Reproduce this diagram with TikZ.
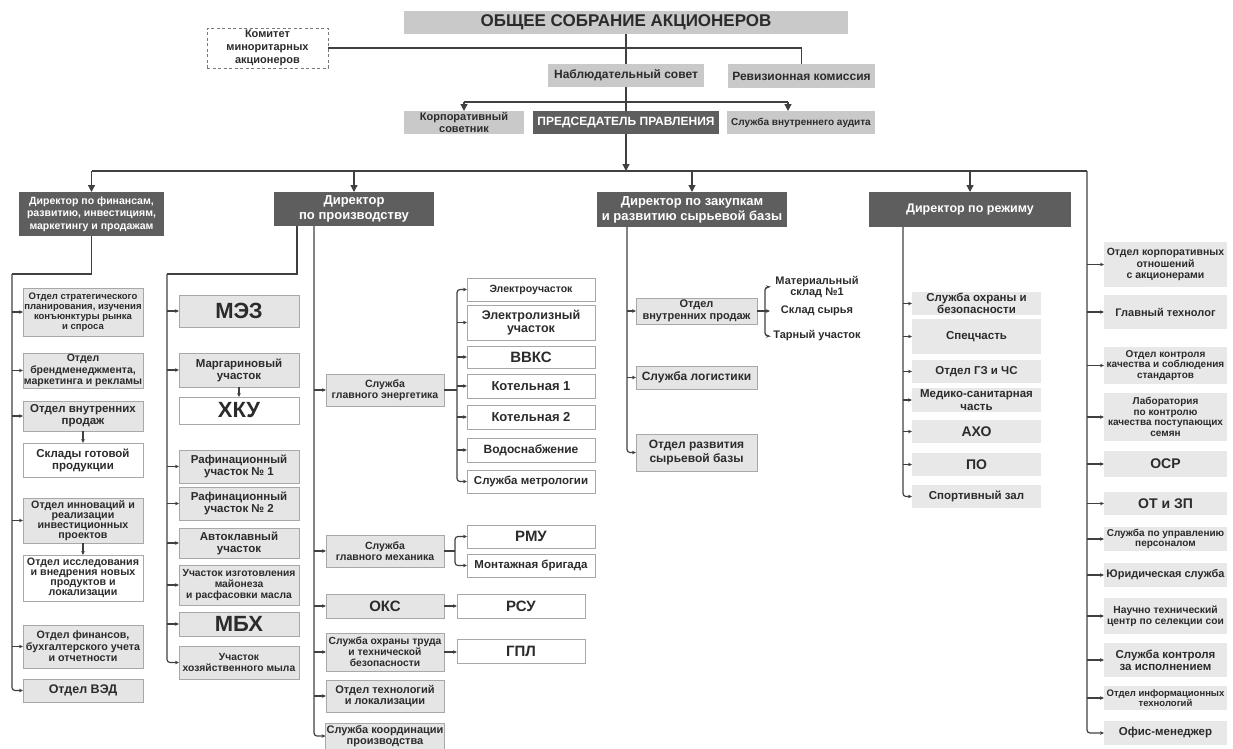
\documentclass[tikz,border=0pt]{standalone}
\usepackage{fontspec}
\setmainfont{Liberation Sans}
\usetikzlibrary{arrows.meta}
\definecolor{lg}{HTML}{C9C9C9}
\definecolor{dk}{HTML}{5E5E5E}
\definecolor{bx}{HTML}{E5E5E5}
\definecolor{px}{HTML}{E8E8E8}
\definecolor{bd}{HTML}{A8A8A8}
\definecolor{ln}{HTML}{404040}
\definecolor{tx}{HTML}{2B2B2B}
\def\lf{1.06}
\newcommand\bx[8]{\node[minimum width={(#5)-(#3)}, minimum height={(#6)-(#4)}, font=\bfseries\fontsize{#7}{\lf\dimexpr #7pt\relax}\selectfont, #2] (#1) at ({((#3)+(#5))/2},{((#4)+(#6))/2}) {#8};}
\tikzset{
  every node/.style={text=tx, align=center, inner sep=1pt, outer sep=0pt},
  lsk/.code={\def\lf{#1}},
  topbox/.style={fill=lg},
  darkbox/.style={fill=dk, text=white},
  gbox/.style={fill=bx, draw=bd, line width=0.8pt},
  wbox/.style={fill=white, draw=bd, line width=0.8pt},
  pbox/.style={fill=px},
  tbox/.style={},
  dshbox/.style={draw=ln!70, line width=0.8pt, dash pattern=on 3pt off 2.5pt},
  conn/.style={draw=ln, line width=1.2pt},
  big/.style={conn, -{Triangle[length=7pt,width=7pt]}},
  sm/.style={conn, -{Stealth[length=4pt,width=3.6pt]}},
}
\begin{document}
\begin{tikzpicture}[x=1pt,y=-1pt]
\useasboundingbox (0,0) rectangle (1233,748);
% top level
\bx{gm}{topbox}{404}{11}{848}{34}{17}{ОБЩЕЕ СОБРАНИЕ АКЦИОНЕРОВ}
\bx{kom}{dshbox,lsk=1.2}{207}{28}{328}{68}{11}{Комитет\\миноритарных\\акционеров}
\bx{nab}{topbox}{548}{64}{704}{87}{12}{Наблюдательный совет}
\bx{rev}{topbox}{728}{64}{875}{88}{12}{Ревизионная комиссия}
\bx{korp}{topbox}{404}{111}{524}{134}{11}{Корпоративный\\советник}
\bx{pred}{darkbox}{533}{111}{719}{134}{12}{ПРЕДСЕДАТЕЛЬ ПРАВЛЕНИЯ}
\bx{aud}{topbox}{727}{111}{875}{134}{10}{Служба внутреннего аудита}
% directors
\bx{D1}{darkbox,lsk=1.2}{19}{192}{164}{236}{10.5}{Директор по финансам,\\развитию, инвестициям,\\маркетингу и продажам}
\bx{D2}{darkbox,lsk=1.15}{274}{192}{434}{226}{13}{Директор\\по производству}
\bx{D3}{darkbox,lsk=1.15}{597}{192}{787}{227}{13}{Директор по закупкам\\и развитию сырьевой базы}
\bx{D4}{darkbox}{869}{192}{1071}{227}{12.5}{Директор по режиму}
% director 1 children
\bx{A1}{gbox}{23}{288}{143}{336}{9.5}{Отдел стратегического\\планирования, изучения\\конъюнктуры рынка\\и спроса}
\bx{A2}{gbox}{23}{353}{143}{388}{10.5}{Отдел\\брендменеджмента,\\маркетинга и рекламы}
\bx{A3}{gbox}{23}{401}{143}{431}{11.5}{Отдел внутренних\\продаж}
\bx{A4}{wbox}{23}{443}{143}{477}{11.5}{Склады готовой\\продукции}
\bx{A5}{gbox,lsk=0.95}{23}{498}{143}{543}{10.7}{Отдел инноваций и\\реализации\\инвестиционных\\проектов}
\bx{A6}{wbox,lsk=0.95}{23}{555}{143}{601}{10.7}{Отдел исследования\\и внедрения новых\\продуктов и\\локализации}
\bx{A7}{gbox}{23}{625}{143}{668}{10.7}{Отдел финансов,\\бухгалтерского учета\\и отчетности}
\bx{A8}{gbox}{23}{679}{143}{702}{12.5}{Отдел ВЭД}
% director 2 left children
\bx{B1}{gbox}{179}{295}{299}{327}{22}{МЭЗ}
\bx{B2}{gbox}{179}{353}{299}{387}{11.5}{Маргариновый\\участок}
\bx{B3}{wbox}{179}{397}{299}{424}{22}{ХКУ}
\bx{B4}{gbox}{179}{450}{299}{483}{11.5}{Рафинационный\\участок № 1}
\bx{B5}{gbox}{179}{487}{299}{520}{11.5}{Рафинационный\\участок № 2}
\bx{B6}{gbox}{179}{528}{299}{558}{11.5}{Автоклавный\\участок}
\bx{B7}{gbox}{179}{565}{299}{605}{10.3}{Участок изготовления\\майонеза\\и расфасовки масла}
\bx{B8}{gbox}{179}{612}{299}{636}{22}{МБХ}
\bx{B9}{gbox}{179}{646}{299}{679}{10.3}{Участок\\хозяйственного мыла}
% director 2 right children
\bx{C1}{gbox}{326}{374}{444}{406}{10.5}{Служба\\главного энергетика}
\bx{C2}{gbox}{326}{535}{444}{567}{10.5}{Служба\\главного механика}
\bx{C3}{gbox}{326}{594}{444}{618}{15}{ОКС}
\bx{C4}{gbox}{326}{633}{444}{671}{10.3}{Служба охраны труда\\и технической\\безопасности}
\bx{C5}{gbox}{326}{680}{444}{712}{11}{Отдел технологий\\и локализации}
\bx{C6}{gbox}{326}{723}{444}{749}{11}{Служба координации\\производства}
\bx{E1}{wbox}{467}{278}{595}{301}{10.5}{Электроучасток}
\bx{E2}{wbox}{467}{305}{595}{340}{12.5}{Электролизный\\участок}
\bx{E3}{wbox}{467}{346}{595}{368}{15}{ВВКС}
\bx{E4}{wbox}{467}{374}{595}{398}{13}{Котельная 1}
\bx{E5}{wbox}{467}{405}{595}{429}{13}{Котельная 2}
\bx{E6}{wbox}{467}{438}{595}{462}{12}{Водоснабжение}
\bx{E7}{wbox}{467}{470}{595}{493}{11.5}{Служба метрологии}
\bx{M1}{wbox}{467}{525}{595}{548}{15}{РМУ}
\bx{M2}{wbox}{467}{554}{595}{577}{11.5}{Монтажная бригада}
\bx{R}{wbox}{457}{594}{585}{618}{15}{РСУ}
\bx{G}{wbox}{457}{639}{585}{663}{15}{ГПЛ}
% director 3 children
\bx{P1}{gbox}{636}{298}{757}{324}{11}{Отдел\\внутренних продаж}
\bx{P2}{gbox}{636}{366}{757}{389}{12}{Служба логистики}
\bx{P3}{gbox,lsk=1.15}{636}{434}{757}{471}{12}{Отдел развития\\сырьевой базы}
\bx{S1}{tbox}{770}{273}{864}{301}{11}{Материальный\\склад №1}
\bx{S2}{tbox}{770}{301}{864}{321}{11}{Склад сырья}
\bx{S3}{tbox}{770}{326}{864}{346}{11}{Тарный участок}
% director 4 children
\bx{Q1}{pbox}{912}{292}{1041}{315}{11.5}{Служба охраны и\\безопасности}
\bx{Q2}{pbox}{912}{319}{1041}{354}{11.5}{Спецчасть}
\bx{Q3}{pbox}{912}{360}{1041}{383}{11.5}{Отдел ГЗ и ЧС}
\bx{Q4}{pbox}{912}{388}{1041}{412}{11.5}{Медико-санитарная\\часть}
\bx{Q5}{pbox}{912}{420}{1041}{443}{14}{АХО}
\bx{Q6}{pbox}{912}{453}{1041}{476}{14}{ПО}
\bx{Q7}{pbox}{912}{485}{1041}{508}{11.5}{Спортивный зал}
% right column
\bx{H1}{pbox}{1104}{242}{1227}{287}{10.5}{Отдел корпоративных\\отношений\\с акционерами}
\bx{H2}{pbox}{1104}{295}{1227}{329}{11}{Главный технолог}
\bx{H3}{pbox}{1104}{347}{1227}{384}{10}{Отдел контроля\\качества и соблюдения\\стандартов}
\bx{H4}{pbox}{1104}{393}{1227}{441}{10}{Лаборатория\\по контролю\\качества поступающих\\семян}
\bx{H5}{pbox}{1104}{451}{1227}{477}{14}{ОСР}
\bx{H6}{pbox}{1104}{492}{1227}{515}{14}{ОТ и ЗП}
\bx{H7}{pbox}{1104}{527}{1227}{551}{10}{Служба по управлению\\персоналом}
\bx{H8}{pbox}{1104}{563}{1227}{587}{11}{Юридическая служба}
\bx{H9}{pbox}{1104}{598}{1227}{634}{10.3}{Научно технический\\центр по селекции сои}
\bx{H10}{pbox}{1104}{643}{1227}{677}{11.5}{Служба контроля\\за исполнением}
\bx{H11}{pbox}{1104}{686}{1227}{710}{9.5}{Отдел информационных\\технологий}
\bx{H12}{pbox}{1104}{721}{1227}{745}{11.5}{Офис-менеджер}
% ---- connectors top
\draw[conn] (gm.south) -- (nab.north);
\draw[conn] (nab.south) -- (pred.north);
\draw[conn] (kom.east) -- (rev.north |- kom.east) -- (rev.north);
\coordinate (hk) at (464,102);
\coordinate (ha) at (788,102);
\draw[conn] (hk) -- (ha);
\draw[big] (hk) -- (korp.north);
\draw[big] (ha) -- (ha |- aud.north);
\coordinate (hL) at (92,171);
\coordinate (hR) at (1087,171);
\draw[big] (pred.south) -- (pred.south |- hL);
\draw[conn] (hL) -- (hR);
\foreach \d in {D1,D2,D3,D4} \draw[big] (\d.north |- hL) -- (\d.north);
% director 1
\coordinate (s1) at (12,274);
\draw[conn] (D1.south) |- (s1);
\draw[sm, rounded corners=3pt] (s1) |- (A8.west);
\foreach \n in {A1,A2,A3,A5,A7} \draw[sm] (s1 |- \n.west) -- (\n.west);
\draw[sm] (A3.south) -- (A4.north);
\draw[sm] (A5.south) -- (A6.north);
% director 2
\coordinate (t2) at (297,226);
\coordinate (s2) at (167,274);
\draw[conn] (t2) |- (s2);
\draw[sm, rounded corners=3pt] (s2) |- (B9.west);
\foreach \n in {B1,B2,B4,B5,B6,B7,B8} \draw[sm] (s2 |- \n.west) -- (\n.west);
\draw[sm] (B2.south) -- (B3.north);
\coordinate (t3) at (314,226);
\draw[sm, rounded corners=3pt] (t3) |- (C6.west);
\foreach \n in {C1,C2,C3,C4,C5} \draw[sm] (t3 |- \n.west) -- (\n.west);
\coordinate (u1) at (457,390);
\draw[conn] (C1.east) -- (u1);
\draw[sm, rounded corners=3pt] (u1) |- (E1.west);
\draw[sm, rounded corners=3pt] (u1) |- (E7.west);
\foreach \n in {E2,E3,E4,E5,E6} \draw[sm] (u1 |- \n.west) -- (\n.west);
\coordinate (u2) at (455,551);
\draw[conn] (C2.east) -- (u2);
\draw[sm, rounded corners=3pt] (u2) |- (M1.west);
\draw[sm, rounded corners=3pt] (u2) |- (M2.west);
\draw[sm] (C3.east) -- (R.west);
\draw[sm] (C4.east) -- (C4.east -| G.west);
% director 3
\coordinate (t4) at (627,227);
\draw[sm, rounded corners=3pt] (t4) |- (P3.west);
\foreach \n in {P1,P2} \draw[sm] (t4 |- \n.west) -- (\n.west);
\coordinate (u3) at (765,311);
\draw[conn] (P1.east) -- (u3);
\draw[sm, rounded corners=3pt] (u3) |- (S1.west);
\draw[sm, rounded corners=3pt] (u3) |- (S3.west);
\draw[sm] (u3) -- (S2.west);
% director 4
\coordinate (t5) at (903,227);
\draw[sm, rounded corners=3pt] (t5) |- (Q7.west);
\foreach \n in {Q1,Q2,Q3,Q4,Q5,Q6} \draw[sm] (t5 |- \n.west) -- (\n.west);
% right column
\draw[sm, rounded corners=3pt] (hR) |- (H12.west);
\foreach \n in {H1,H2,H3,H4,H5,H6,H7,H8,H9,H10,H11} \draw[sm] (hR |- \n.west) -- (\n.west);
\end{tikzpicture}
\end{document}
